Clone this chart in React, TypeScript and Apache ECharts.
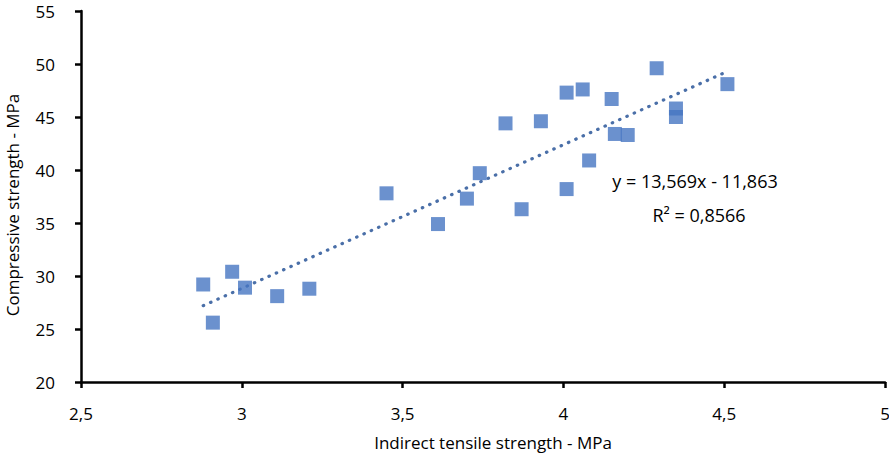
import { useEffect, useRef } from "react";
import * as echarts from "echarts";

// tensile strength (MPa) vs compressive strength (MPa)
const tensile = [
  2.88, 2.91, 2.97, 3.01, 3.11, 3.21, 3.45, 3.61, 3.7, 3.74, 3.82, 3.87, 3.93,
  4.01, 4.01, 4.06, 4.08, 4.15, 4.16, 4.2, 4.29, 4.35, 4.35, 4.51,
];
const compressive = [
  29.2, 25.6, 30.4, 28.9, 28.1, 28.8, 37.8, 34.9, 37.3, 39.7, 44.4, 36.3, 44.6,
  47.3, 38.2, 47.6, 40.9, 46.7, 43.4, 43.3, 49.6, 45.8, 45.0, 48.1,
];

// linear trend line end points
const trendX = [2.88, 4.51];
const trendY = [27.2, 49.3];

const equationText = "y = 13,569x - 11,863";
const r2Text = "R² = 0,8566";
const xName = "Indirect tensile strength - MPa";
const yName = "Compressive strength - MPa";

const FONT = "'Open Sans', sans-serif";
const BLUE = "#4676C2";

export default function App() {
  const chartRef = useRef<HTMLDivElement>(null);

  useEffect(() => {
    document.body.style.margin = "0";
    if (!chartRef.current) return;
    const chart = echarts.init(chartRef.current, undefined, { renderer: "svg" });

    const axisCommon = {
      axisLine: { show: true, lineStyle: { color: "#000", width: 2.5 } },
      axisTick: { show: true, inside: false, length: 6, lineStyle: { color: "#000", width: 2.5 } },
      splitLine: { show: false },
    };

    const option: echarts.EChartsOption = {
      animation: false,
      backgroundColor: "#fff",
      grid: { left: 81, right: 4, top: 11, bottom: 74, outerBoundsMode: "none" } as any,
      xAxis: {
        type: "value",
        min: 2.5,
        max: 5,
        interval: 0.5,
        ...axisCommon,
        axisLabel: {
          color: "#000",
          fontSize: 17,
          fontFamily: FONT,
          margin: 23,
          formatter: (v: number) => String(v).replace(".", ","),
        },
      },
      yAxis: {
        type: "value",
        min: 20,
        max: 55,
        interval: 5,
        ...axisCommon,
        axisLabel: { color: "#000", fontSize: 17, fontFamily: FONT, margin: 26 },
      },
      series: [
        {
          type: "line",
          data: trendX.map((x, i) => [x, trendY[i]]),
          symbol: "none",
          lineStyle: { color: "#4A6FA8", width: 3.2, type: [0.5, 7.5], cap: "round" },
          z: 1,
        },
        {
          type: "scatter",
          data: tensile.map((x, i) => [x, compressive[i]]),
          symbol: "rect",
          symbolSize: 14,
          itemStyle: { color: BLUE },
          z: 2,
        },
      ],
      graphic: [
        {
          type: "text",
          x: 695,
          y: 181,
          style: {
            text: equationText,
            fill: "#000",
            fontSize: 18,
            fontFamily: FONT,
            align: "center",
            verticalAlign: "middle",
          },
        },
        {
          type: "text",
          x: 699,
          y: 215,
          style: {
            text: r2Text,
            fill: "#000",
            fontSize: 18,
            fontFamily: FONT,
            align: "center",
            verticalAlign: "middle",
          },
        },
        {
          type: "text",
          x: 493,
          y: 442,
          style: {
            text: xName,
            fill: "#000",
            fontSize: 17,
            fontFamily: FONT,
            align: "center",
            verticalAlign: "middle",
          },
        },
        {
          type: "text",
          x: 12,
          y: 205,
          rotation: Math.PI / 2,
          style: {
            text: yName,
            fill: "#000",
            fontSize: 17,
            fontFamily: FONT,
            align: "center",
            verticalAlign: "middle",
          },
        },
      ],
    };

    chart.setOption(option);
    return () => chart.dispose();
  }, []);

  return <div ref={chartRef} style={{ width: 889, height: 456 }} />;
}
